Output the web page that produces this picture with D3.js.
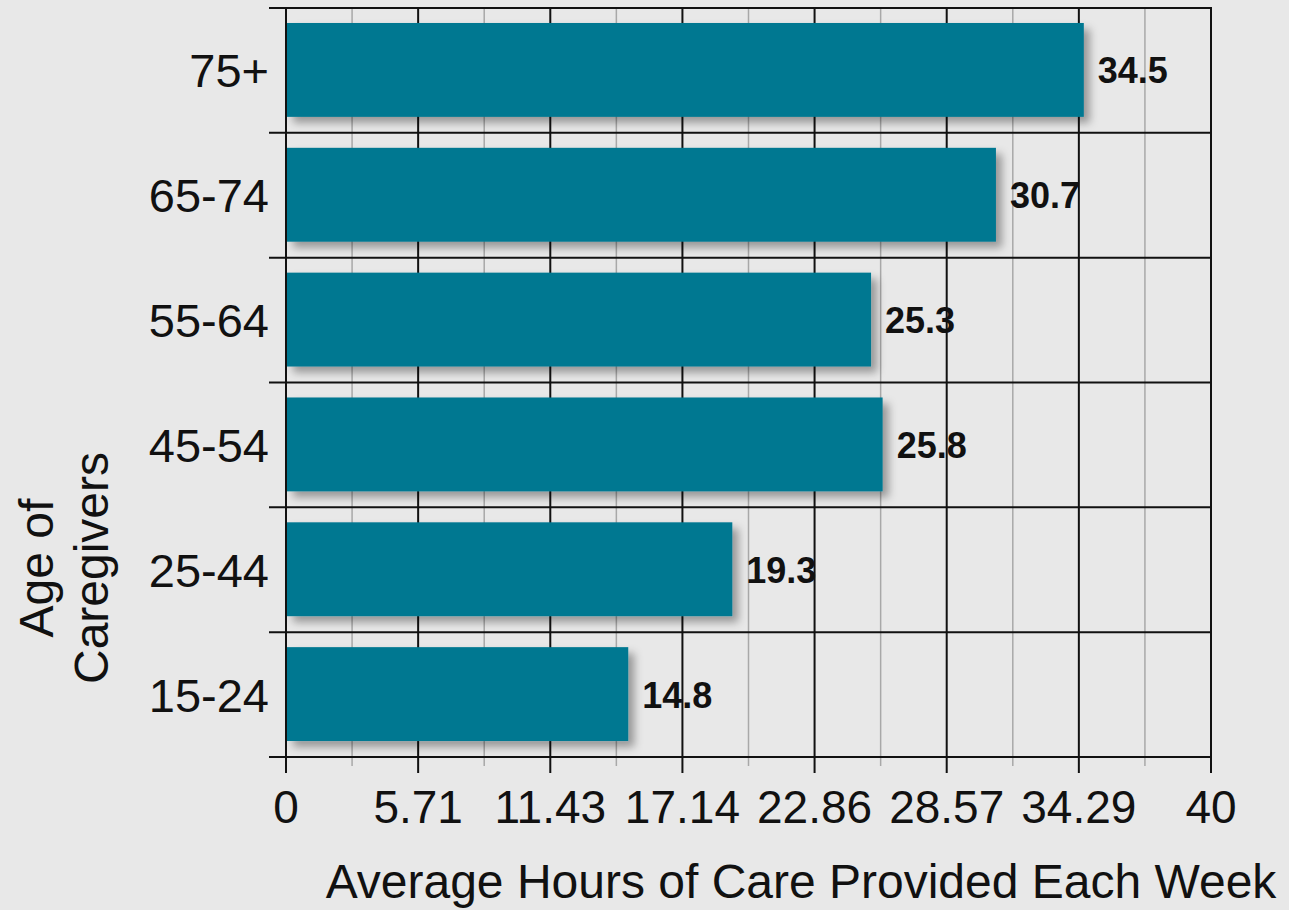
<!DOCTYPE html>
<html>
<head>
<meta charset="utf-8">
<script src="https://cdn.jsdelivr.net/npm/d3@7/dist/d3.min.js"></script>
<style>
html,body{margin:0;padding:0;background:#e8e8e8;}
svg{display:block;font-family:"Liberation Sans",Arial,Helvetica,sans-serif;}
</style>
</head>
<body>
<svg id="chart" width="1289" height="910"></svg>
<script>
const categories = ["75+", "65-74", "55-64", "45-54", "25-44", "15-24"];
const values = [34.5, 30.7, 25.3, 25.8, 19.3, 14.8];
const tickLabels = ["0", "5.71", "11.43", "17.14", "22.86", "28.57", "34.29", "40"];
const xTitle = "Average Hours of Care Provided Each Week";
const yTitleLines = ["Age of", "Caregivers"];

const svg = d3.select("#chart");
const pLeft = 286, pRight = 1211, pTop = 8, pBottom = 757;

const x = d3.scaleLinear().domain([0, 40]).range([pLeft, pRight]);
const y = d3.scaleBand().domain(categories).range([pTop, pBottom]).paddingInner(0.248).paddingOuter(0.124);

const defs = svg.append("defs");
const f = defs.append("filter").attr("id", "shadow").attr("x", "-10%").attr("y", "-30%").attr("width", "130%").attr("height", "170%");
f.append("feDropShadow").attr("dx", 6).attr("dy", 6).attr("stdDeviation", 4)
  .attr("flood-color", "#000").attr("flood-opacity", 0.35);

svg.append("rect").attr("width", 1289).attr("height", 910).attr("fill", "#e8e8e8");

const majorTicks = tickLabels.map((d, i) => i * 40 / 7);
const minorTicks = d3.range(7).map(i => (i + 0.5) * 40 / 7);

// minor gridlines
svg.append("g").selectAll("line").data(minorTicks).join("line")
  .attr("x1", d => x(d)).attr("x2", d => x(d))
  .attr("y1", pTop).attr("y2", pBottom + 9)
  .attr("stroke", "#a8a8a8").attr("stroke-width", 1.5);

// horizontal lines at band boundaries
const bounds = categories.map(c => y(c) - y.step() * y.paddingInner() / 2).concat([pBottom]);
svg.append("g").selectAll("line").data(bounds).join("line")
  .attr("x1", pLeft - 17).attr("x2", pRight)
  .attr("y1", d => d).attr("y2", d => d)
  .attr("stroke", "#111").attr("stroke-width", 2);

// major gridlines
svg.append("g").selectAll("line").data(majorTicks).join("line")
  .attr("x1", d => x(d)).attr("x2", d => x(d))
  .attr("y1", pTop - 1).attr("y2", pBottom + 16)
  .attr("stroke", "#111").attr("stroke-width", 2);

// bars
svg.append("g").selectAll("rect").data(values).join("rect")
  .attr("x", x(0) + 1)
  .attr("y", (d, i) => y(categories[i]) - 0.5)
  .attr("width", d => x(d) - x(0) - 1)
  .attr("height", y.bandwidth())
  .attr("fill", "#007891")
  .attr("filter", "url(#shadow)");

// value labels
svg.append("g").selectAll("text").data(values).join("text")
  .attr("x", d => x(d) + 14)
  .attr("y", (d, i) => y(categories[i]) + y.bandwidth() / 2 + 13)
  .attr("font-size", 36).attr("font-weight", "bold").attr("fill", "#111")
  .text(d => d.toFixed(1));

// y tick labels
svg.append("g").selectAll("text").data(categories).join("text")
  .attr("x", 269)
  .attr("y", d => y(d) + y.bandwidth() / 2 + 17)
  .attr("text-anchor", "end")
  .attr("font-size", 47).attr("fill", "#111")
  .text(d => d);

// x tick labels
svg.append("g").selectAll("text").data(majorTicks).join("text")
  .attr("x", d => x(d))
  .attr("y", 823)
  .attr("text-anchor", "middle")
  .attr("font-size", 46).attr("fill", "#111")
  .text((d, i) => tickLabels[i]);

// x title
svg.append("text").attr("x", 801).attr("y", 898).attr("text-anchor", "middle")
  .attr("font-size", 48).attr("fill", "#111").text(xTitle);

// y title
const yt = svg.append("g").attr("transform", "translate(0,568) rotate(-90)");
yt.selectAll("text").data(yTitleLines).join("text")
  .attr("x", 0).attr("y", (d, i) => 53 + i * 55)
  .attr("text-anchor", "middle")
  .attr("font-size", 48).attr("fill", "#111")
  .text(d => d);
</script>
</body>
</html>
